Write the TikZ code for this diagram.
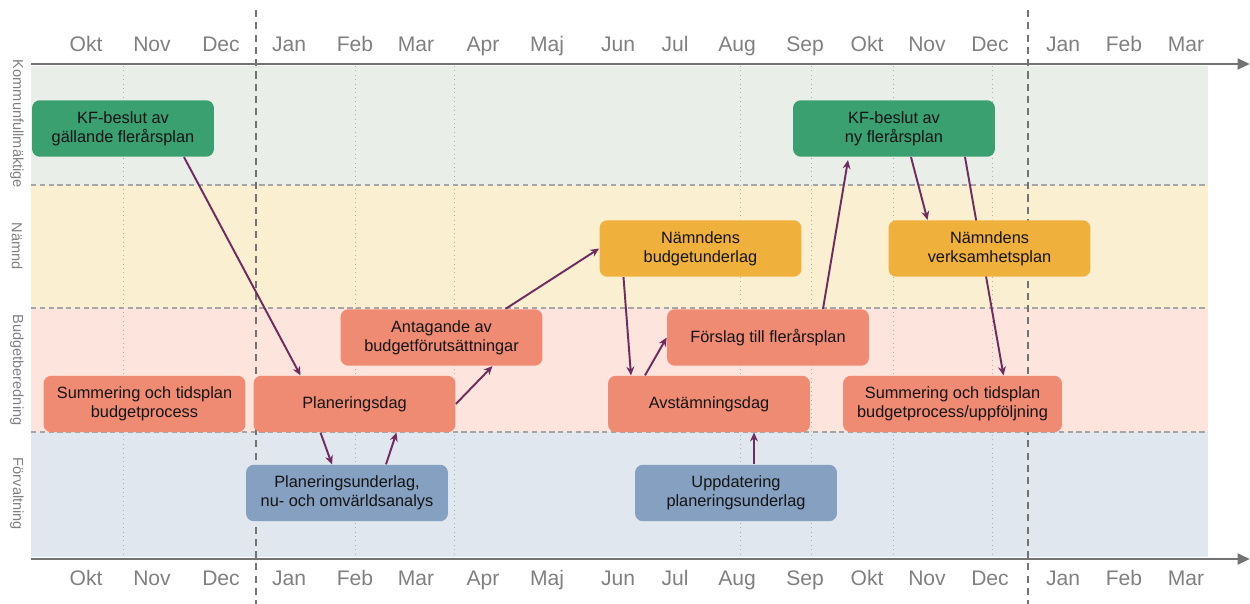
\documentclass[tikz,border=0pt]{standalone}
\usepackage{fontspec}
\setmainfont{Liberation Sans}
\usetikzlibrary{calc,arrows.meta}
\definecolor{kfband}{HTML}{E9EEE8}
\definecolor{ndband}{HTML}{FBEFD1}
\definecolor{bbband}{HTML}{FDE4DC}
\definecolor{fvband}{HTML}{E0E7EF}
\definecolor{kfgreen}{HTML}{3AA070}
\definecolor{ndorange}{HTML}{EFB13B}
\definecolor{bbsalmon}{HTML}{EF8B73}
\definecolor{fvblue}{HTML}{85A0C1}
\definecolor{linkpurple}{HTML}{6E2C60}
\definecolor{axisgray}{HTML}{808080}
\pgfdeclarelayer{bg}
\pgfdeclarelayer{links}
\pgfsetlayers{bg,links,main}
\begin{document}
\begin{tikzpicture}[x=0.02cm,y=-0.02cm,line join=round,>={Stealth[length=5pt,width=4.5pt]},
	box/.style={rounded corners=4.5pt,minimum width=4.04cm,minimum height=1.13cm,inner sep=1pt,align=center,font=\fontsize{9.3}{10.8}\selectfont,text=black!92},
	kf/.style={box,fill=kfgreen},nd/.style={box,fill=ndorange},
	bb/.style={box,fill=bbsalmon},fv/.style={box,fill=fvblue},
	link/.style={->,draw=linkpurple,line width=1.1pt},
	axis/.style={-{Triangle[length=7pt,width=6pt]},draw=black!55,line width=1.7pt},
	month/.style={font=\fontsize{12}{14}\selectfont,text=axisgray,text height=9pt,text depth=2.5pt},
	lane/.style={rotate=-90,font=\fontsize{8.3}{9}\selectfont,text=axisgray}]
	\useasboundingbox (0,0) rectangle (1250,604);
	% lanes and grid
	\begin{pgfonlayer}{bg}
		\fill[kfband] (31,66) rectangle (1208,185);
		\fill[ndband] (31,185) rectangle (1208,308);
		\fill[bbband] (31,308) rectangle (1208,432);
		\fill[fvband] (31,432) rectangle (1208,557);
		\foreach \y in {185,308,432} \draw[black!35,line width=0.8pt,dash pattern=on 3pt off 2pt] (31,\y)--(1208,\y);
		\foreach \x in {123,355,454,740,811,893,992} \draw[black!30,line width=0.5pt,dotted] (\x,66)--(\x,557);
		\foreach \x in {256,1028} \draw[black!55,line width=0.8pt,dash pattern=on 4pt off 3pt] (\x,10)--(\x,604);
	\end{pgfonlayer}
	\draw[axis] (31,64)--(1250,64);
	\draw[axis] (31,559)--(1250,559);
	\foreach \x/\m [count=\i] in {86/Okt,152/Nov,221/Dec,289/Jan,355/Feb,416/Mar,483/Apr,547/Maj,618/Jun,675/Jul,737/Aug,805/Sep,867/Okt,927/Nov,990/Dec,1063/Jan,1124/Feb,1186/Mar}
	{\node[month] (mt\i) at (\x,45.5) {\m}; \node[month] (mb\i) at (\x,579.5) {\m};}
	\node[lane] (lkf) at (17,124) {Kommunfullmäktige};
	\node[lane] (lnd) at (17,246) {Nämnd};
	\node[lane] (lbb) at (17,370) {Budgetberedning};
	\node[lane] (lfv) at (17,494) {Förvaltning};
	% boxes
	\node[kf,minimum width=3.64cm] (kfa) at (123,128.5) {KF-beslut av\\gällande flerårsplan};
	\node[kf] (kfb) at (894,128.5) {KF-beslut av\\ny flerårsplan};
	\node[nd] (bu) at (700.5,248.5) {Nämndens\\budgetunderlag};
	\node[nd] (vp) at (989.5,248.5) {Nämndens\\verksamhetsplan};
	\node[bb] (ant) at (441.5,337.5) {Antagande av\\budgetförutsättningar};
	\node[bb] (fors) at (768,337.5) {Förslag till flerårsplan};
	\node[bb] (sum1) at (144.5,404) {Summering och tidsplan\\budgetprocess};
	\node[bb] (plan) at (354.5,404) {Planeringsdag};
	\node[bb] (avst) at (709,404) {Avstämningsdag};
	\node[bb,minimum width=4.38cm] (sum2) at (952.5,404) {Summering och tidsplan\\budgetprocess/uppföljning};
	\node[fv] (pu) at (347,493) {Planeringsunderlag,\\nu- och omvärldsanalys};
	\node[fv] (upd) at (736,493) {Uppdatering\\planeringsunderlag};
	% flow
	\begin{pgfonlayer}{links}
		\draw[link] ($(kfa.south)+(61,0)$) -- ($(plan.north)+(-54,0)$);
		\draw[link] ($(plan.south)+(-34,0)$) -- ($(pu.north)+(-15,0)$);
		\draw[link] ($(pu.north)+(39,0)$) -- ($(plan.south)+(42,0)$);
		\draw[link] (plan.east) -- ($(ant.south)+(51,0)$);
		\draw[link] ($(ant.north)+(64,0)$) -- (bu.west);
		\draw[link] ($(bu.south)+(-77,0)$) -- ($(avst.north)+(-78,0)$);
		\draw[link] ($(avst.north)+(-64,0)$) -- (fors.west);
		\draw[link] ($(upd.north)+(18,0)$) -- ($(avst.south)+(45,0)$);
		\draw[link] ($(fors.north)+(55,0)$) -- ($(kfb.south)+(-46,3)$);
		\draw[link] ($(kfb.south)+(17,0)$) -- ($(vp.north)+(-62,0)$);
		\draw[link] ($(kfb.south)+(71,0)$) -- ($(sum2.north)+(51,0)$);
	\end{pgfonlayer}
\end{tikzpicture}
\end{document}
